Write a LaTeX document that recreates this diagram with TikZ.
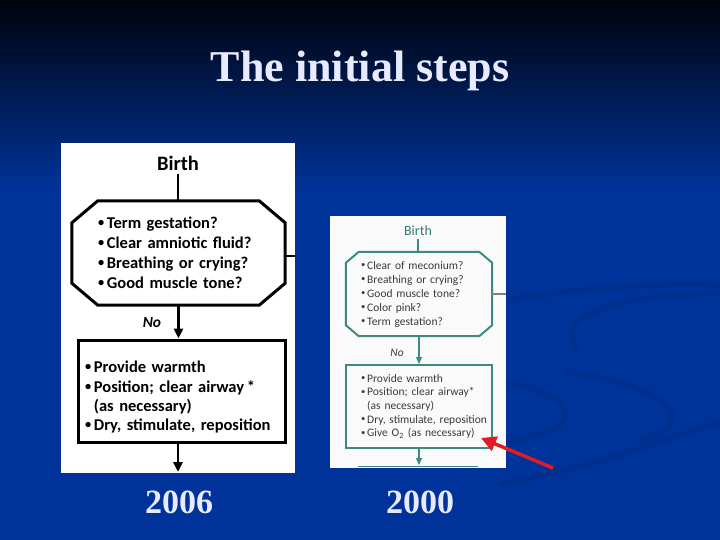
\documentclass[tikz,border=0pt]{standalone}
\usepackage{fontspec}
\usetikzlibrary{arrows.meta,positioning}
\setmainfont{Carlito}
\newfontfamily\slideserif{Liberation Serif}
\definecolor{slidetop}{HTML}{00030C}
\definecolor{slideblue}{HTML}{003399}
\definecolor{swirl}{HTML}{00287C}
\definecolor{titlewhite}{HTML}{E8EBFF}
\definecolor{flowteal}{HTML}{3F8A80}
\definecolor{tealtext}{HTML}{2E7D72}
\definecolor{ink}{HTML}{3A3A3A}
\definecolor{alert}{HTML}{E31B23}
\newcommand{\bul}{\raisebox{.12em}{\scalebox{.75}{\textbullet}}\,}
\newcommand{\octpath}[3]{([xshift=#2]#1.north west) -- ([xshift=-#2]#1.north east)
 -- ([yshift=-#3]#1.north east) -- ([yshift=#3]#1.south east) -- ([xshift=-#2]#1.south east)
 -- ([xshift=#2]#1.south west) -- ([yshift=#3]#1.south west) -- ([yshift=-#3]#1.north west) -- cycle}
\tikzset{panel/.style={fill=white,draw=none,inner sep=0pt},
 titletext/.style={text=titlewhite,inner sep=0pt,font=\slideserif\bfseries\fontsize{44}{44}\selectfont},
 yeartext/.style={text=titlewhite,inner sep=0pt,font=\slideserif\bfseries\fontsize{34}{34}\selectfont},
 askL/.style={inner xsep=26pt,text width=161pt,minimum height=104pt,align=left,font=\bfseries\fontsize{16.5}{20}\selectfont},
 actL/.style={draw,line width=3pt,inner xsep=7pt,text width=193pt,minimum height=102pt,align=left,font=\bfseries\fontsize{16.5}{19.3}\selectfont},
 askR/.style={inner xsep=15pt,text width=116pt,minimum height=84pt,align=left,text=ink,font=\fontsize{11.5}{14}\selectfont},
 actR/.style={draw=flowteal,line width=2pt,inner xsep=15pt,text width=116pt,minimum height=83pt,align=left,text=ink,font=\fontsize{11.5}{13.6}\selectfont},
 lineL/.style={line width=2.5pt},arrL/.style={-{Triangle[width=9pt,length=10pt]},line width=2.5pt},
 lineR/.style={draw=flowteal,line width=1.2pt},arrR/.style={-{Triangle[width=6pt,length=7pt]},line width=1.2pt,draw=flowteal},
 redarr/.style={-{Triangle[width=15pt,length=15pt]},line width=3.5pt,draw=alert},
 swirlband/.style={draw=swirl,line width=6pt,line cap=round,opacity=.3}}
\begin{document}
\begin{tikzpicture}[x=1pt,y=-1pt]
% slide background
\useasboundingbox (0,0) rectangle (720,540);
\shade[top color=slidetop,bottom color=slideblue] (0,0) rectangle (720,190);
\fill[slideblue] (0,189) rectangle (720,540);
\draw[swirlband] (505,300) .. controls (600,286) and (660,283) .. (720,285);
\draw[swirlband] (720,293) .. controls (620,296) and (555,312) .. (576,348);
\draw[swirlband] (507,382) .. controls (585,398) and (585,430) .. (507,442);
\draw[swirlband] (568,372) .. controls (690,390) and (690,428) .. (642,440);
\draw[swirlband] (500,484) .. controls (580,470) and (660,442) .. (720,422);
% title
\node[titletext] (title) at (360,71) {The initial steps};
% 2006 chart
\node[panel,minimum width=234pt,minimum height=330pt] (pL) at (178,308) {};
\node[font=\bfseries\fontsize{20.5}{20.5}\selectfont] (bL) at (178,163) {Birth};
\node[askL] (qL) at (178.5,253) {\bul Term gestation?\\\bul Clear amniotic fluid?\\\bul Breathing or crying?\\\bul Good muscle tone?};
\draw[line width=3pt] \octpath{qL}{26pt}{22pt};
\node[font=\bfseries\itshape\fontsize{15.5}{15.5}\selectfont] (nL) at (152,323) {No};
\node[actL] (aL) at (181.5,391) {\rule{0pt}{24pt}\bul Provide warmth\\\bul Position; clear airway\,*\\\phantom{\bul}(as necessary)\\\bul Dry, stimulate, reposition};
\coordinate (outL) at (178,472);
\draw[lineL] (bL.south) -- (bL.south |- qL.north);
\draw[lineL] ([yshift=-3pt]qL.east) -- ([yshift=-3pt]qL.east -| pL.east);
\draw[arrL] (qL.south) -- (qL.south |- aL.north);
\draw[arrL] (outL |- aL.south) -- (outL);
% 2000 chart
\node[panel,fill=white!98!black,minimum width=176pt,minimum height=252pt] (pR) at (418,342) {};
\node[text=tealtext,font=\fontsize{14}{14}\selectfont] (bR) at (418,231) {Birth};
\node[askR] (qR) at (419,294) {\bul Clear of meconium?\\\bul Breathing or crying?\\\bul Good muscle tone?\\\bul Color pink?\\\bul Term gestation?};
\draw[lineR,line width=2pt] \octpath{qR}{13pt}{11pt};
\node[text=ink,font=\itshape\fontsize{11.5}{11.5}\selectfont] (nR) at (397,353) {No};
\node[actR] (aR) at (419,406.5) {\bul Provide warmth\\\bul Position; clear airway*\\\phantom{\bul}(as necessary)\\\mbox{\bul Dry, stimulate, reposition}\\\mbox{\bul Give O\textsubscript{2} (as necessary)}};
\coordinate (nextR) at (419,465);
\draw[lineR] (bR.south) -- (bR.south |- qR.north);
\draw[lineR,draw=gray] (qR.east) -- (qR.east -| pR.east);
\draw[arrR] (qR.south) -- (qR.south |- aR.north);
\draw[arrR] (nextR |- aR.south) -- (nextR);
\draw[lineR] (358,466.5) -- (478,466.5);
% pointer
\coordinate (redTail) at (553,468);
\coordinate (redTip) at (481,438);
\draw[redarr] (redTail) -- (redTip);
% years
\node[yeartext] (y06) at (179,502) {2006};
\node[yeartext] (y00) at (420,502) {2000};
\end{tikzpicture}
\end{document}
